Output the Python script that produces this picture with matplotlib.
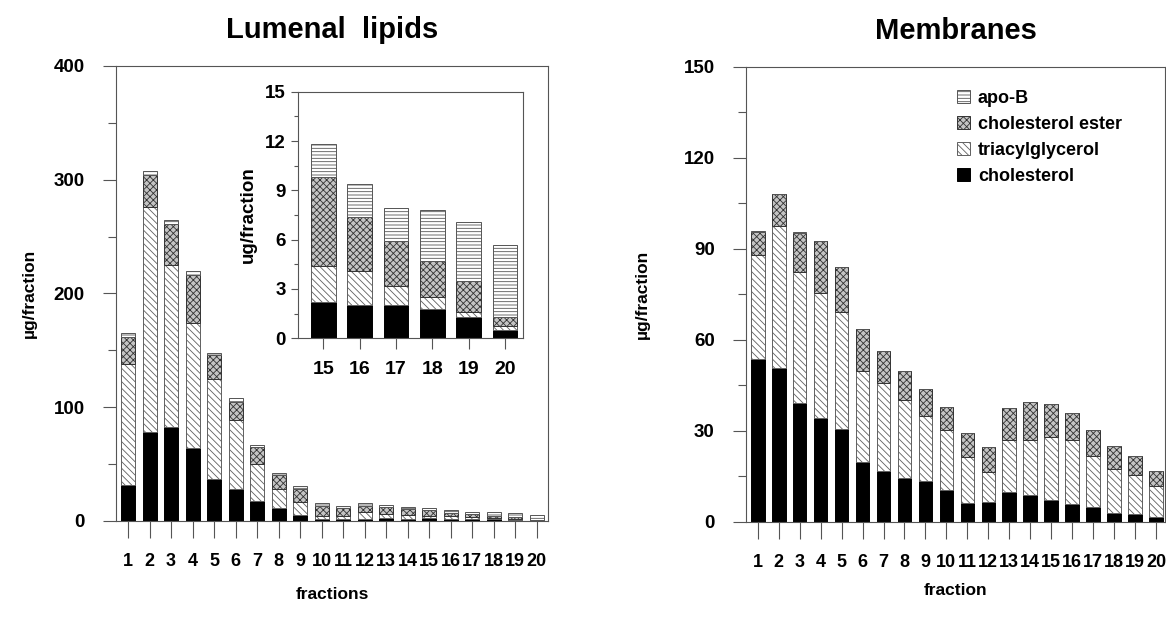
import numpy as np
import matplotlib
matplotlib.use('Agg')
import matplotlib.pyplot as plt
from matplotlib.patches import Patch
from matplotlib.ticker import MultipleLocator

plt.rcParams['font.family'] = ['Liberation Sans', 'DejaVu Sans']
plt.rcParams['font.weight'] = 'bold'
plt.rcParams['axes.labelweight'] = 'bold'
plt.rcParams['hatch.linewidth'] = 0.6

# --- data ---
fractions = np.arange(1, 21)

# lumenal lipids, ug per fraction (segment heights)
chol_l = [32, 78, 83, 64, 37, 28, 18, 11, 5.5, 1.5, 1.5, 2, 2.5, 1.5, 2.2, 2.0, 2.0, 1.8, 1.3, 0.5]
tg_l = [106, 198, 142, 110, 88, 61, 32, 17, 11.5, 3, 3, 5.5, 3.5, 3.5, 2.2, 2.1, 1.2, 0.7, 0.3, 0.25]
ce_l = [24, 28, 36, 42, 21, 16, 15, 12, 11.5, 8.5, 6.5, 6, 6.5, 5.5, 5.4, 3.3, 2.7, 2.2, 1.9, 0.55]
apob_l = [3.3, 4, 4, 3.5, 2, 3, 2, 2, 2, 2.5, 2, 2.5, 1.5, 2, 2.0, 2.0, 2.0, 3.1, 3.6, 4.4]

# membranes
chol_m = [53.6, 50.5, 39.2, 34.3, 30.5, 19.8, 16.7, 14.3, 13.4, 10.4, 6.0, 6.6, 9.9, 8.8, 7.1, 5.8, 4.9, 3.0, 2.5, 1.4]
tg_m = [34.3, 47.0, 43.0, 41.0, 38.7, 30.0, 28.9, 25.8, 21.4, 19.8, 15.4, 9.9, 17.0, 18.1, 20.9, 21.1, 16.9, 14.4, 12.9, 10.5]
ce_m = [7.7, 10.4, 12.9, 17.2, 14.9, 13.8, 10.8, 9.6, 8.9, 7.5, 7.9, 8.2, 10.5, 12.7, 10.7, 9.0, 8.4, 7.5, 6.4, 4.9]
apob_m = [0.3, 0, 0.3, 0, 0, 0, 0, 0, 0, 0, 0, 0, 0, 0, 0, 0, 0, 0, 0, 0]

labels = ['cholesterol', 'triacylglycerol', 'cholesterol ester', 'apo-B']
styles = [dict(facecolor='black', edgecolor='black', hatch=None),
          dict(facecolor='white', edgecolor='#606060', hatch='\\\\\\\\\\'),
          dict(facecolor='#c4c4c4', edgecolor='#333333', hatch='xxxxx'),
          dict(facecolor='white', edgecolor='#555555', hatch='-----')]


def stacked(ax, x, series, width):
    bottom = np.zeros(len(x))
    for vals, st in zip(series, styles):
        vals = np.asarray(vals, dtype=float)
        ax.bar(x, vals, width, bottom=bottom, linewidth=0.7, **st)
        bottom += vals


def style_axes(ax):
    for s in ax.spines.values():
        s.set_color('#555555')
        s.set_linewidth(0.8)


fig = plt.figure(figsize=(11.66, 6.22), dpi=100)

# --- Lumenal lipids ---
ax1 = fig.add_axes([0.0995, 0.1624, 0.3705, 0.7315])
stacked(ax1, fractions, [chol_l, tg_l, ce_l, apob_l], 0.65)
ax1.set_xlim(0.44, 20.52)
ax1.set_ylim(0, 400)
ax1.yaxis.set_major_locator(MultipleLocator(100))
ax1.yaxis.set_minor_locator(MultipleLocator(50))
ax1.set_xticks(fractions)
ax1.tick_params(axis='y', which='major', length=9.5, width=0.8, pad=13, labelsize=13.5, color='#555555')
ax1.tick_params(axis='y', which='minor', length=6, width=0.8, color='#555555')
ax1.tick_params(axis='x', length=12, width=0.8, pad=11, labelsize=13, color='#555555')
style_axes(ax1)
ax1.set_title('Lumenal  lipids', fontsize=21, pad=20, fontweight='bold')
ax1.set_ylabel('µg/fraction', fontsize=12.5, labelpad=12)
ax1.set_xlabel('fractions', fontsize=12.5, labelpad=12)

# inset zoom on fractions 15-20
ins = fig.add_axes([0.2558, 0.4561, 0.1925, 0.3965])
sl = slice(14, 20)
stacked(ins, fractions[sl], [chol_l[sl], tg_l[sl], ce_l[sl], apob_l[sl]], 0.68)
ins.set_xlim(14.31, 20.49)
ins.set_ylim(0, 15)
ins.yaxis.set_major_locator(MultipleLocator(3))
ins.yaxis.set_minor_locator(MultipleLocator(1.5))
ins.set_xticks(fractions[sl])
ins.tick_params(axis='y', which='major', length=5, width=0.8, pad=4, labelsize=13.5, color='#555555')
ins.tick_params(axis='y', which='minor', length=3, width=0.8, color='#555555')
ins.tick_params(axis='x', length=8, width=0.8, pad=8, labelsize=14, color='#555555')
style_axes(ins)
ins.set_ylabel('ug/fraction', fontsize=13.5, labelpad=6)

# --- Membranes ---
ax2 = fig.add_axes([0.6398, 0.1613, 0.3594, 0.7315])
stacked(ax2, fractions, [chol_m, tg_m, ce_m, apob_m], 0.65)
ax2.set_xlim(0.44, 20.43)
ax2.set_ylim(0, 150)
ax2.yaxis.set_major_locator(MultipleLocator(30))
ax2.yaxis.set_minor_locator(MultipleLocator(15))
ax2.set_xticks(fractions)
ax2.tick_params(axis='y', which='major', length=9.5, width=0.8, pad=13, labelsize=13.5, color='#555555')
ax2.tick_params(axis='y', which='minor', length=6, width=0.8, color='#555555')
ax2.tick_params(axis='x', length=12, width=0.8, pad=11, labelsize=13, color='#555555')
style_axes(ax2)
ax2.set_title('Membranes', fontsize=21, pad=20, fontweight='bold')
ax2.set_ylabel('µg/fraction', fontsize=12.5, labelpad=24)
ax2.set_xlabel('fraction', fontsize=12.5, labelpad=9)

handles = [Patch(label=labels[i], linewidth=0.7, **styles[i]) for i in [3, 2, 1, 0]]
ax2.legend(handles=handles, loc='upper left', bbox_to_anchor=(0.465, 0.985), frameon=False,
           handlelength=0.7, handleheight=0.7, handletextpad=0.45, labelspacing=0.5,
           prop={'size': 13, 'weight': 'bold'})

fig.savefig('out.png', dpi=100)
